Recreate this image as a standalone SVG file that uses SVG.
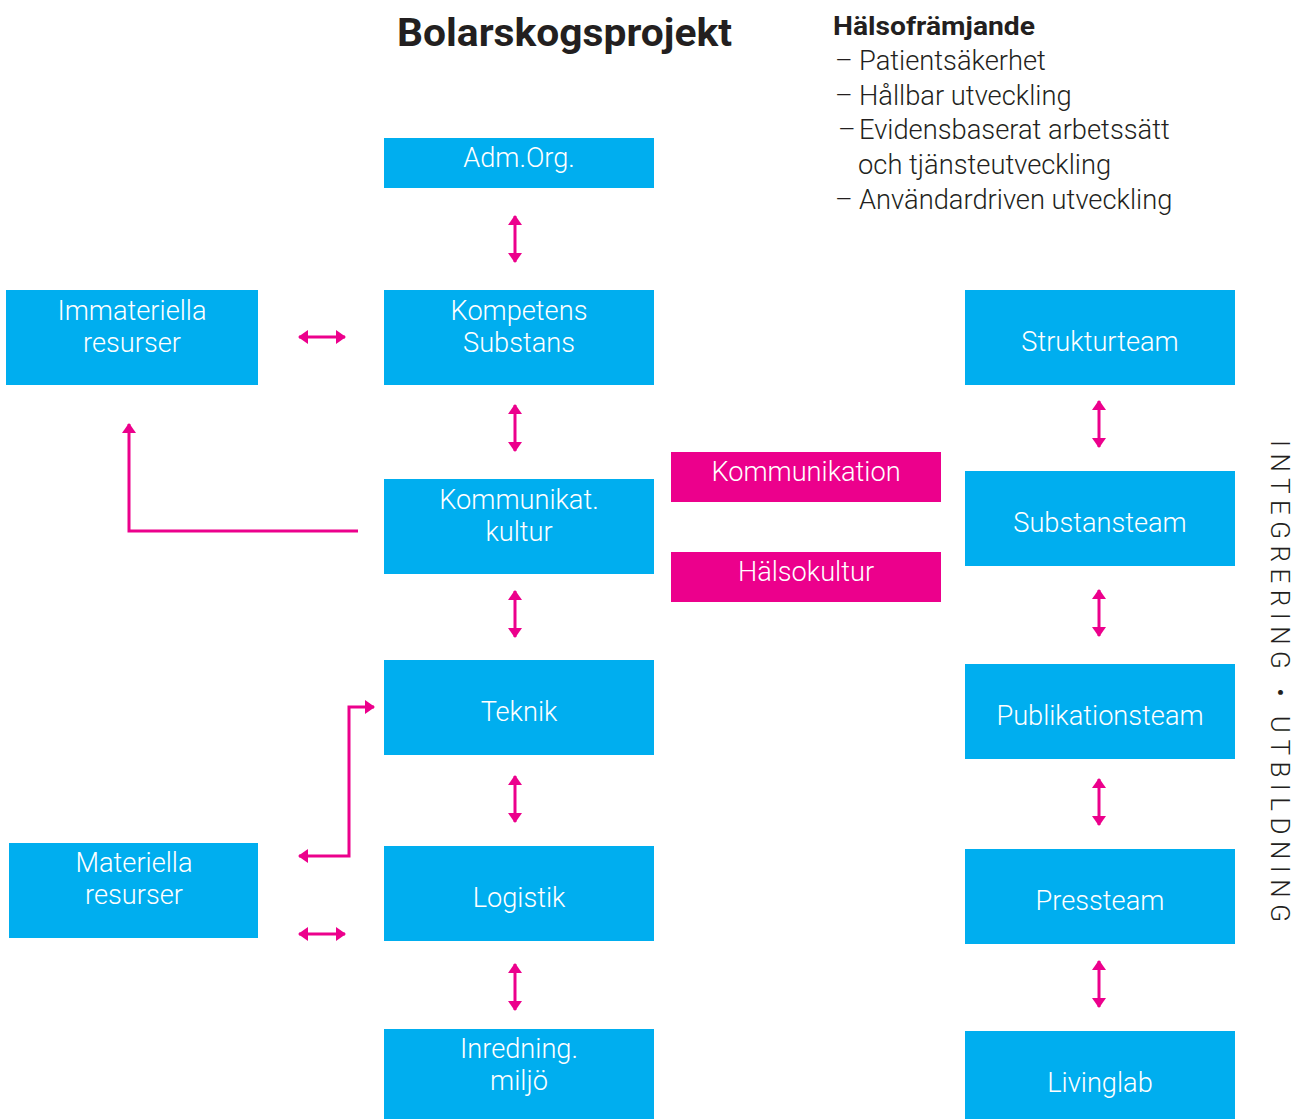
<svg xmlns="http://www.w3.org/2000/svg" width="1296" height="1119" viewBox="0 0 1296 1119">
  <style>
    .box { fill: #00AEEF; }
    .pink { fill: #EC008C; }
    .lbl { font-family: Roboto, "Liberation Sans", sans-serif; font-weight: 300; font-size: 27.2px; fill: #FFFFFF; text-anchor: middle; }
    .title { font-family: Roboto, "Liberation Sans", sans-serif; font-weight: 700; font-size: 39px; fill: #231F20; }
    .head { font-family: Roboto, "Liberation Sans", sans-serif; font-weight: 700; font-size: 26px; fill: #231F20; }
    .list { font-family: Roboto, "Liberation Sans", sans-serif; font-weight: 300; font-size: 27.3px; fill: #231F20; }
    .side { font-family: Roboto, "Liberation Sans", sans-serif; font-weight: 300; font-size: 26px; fill: #231F20; }
    .conn { fill: none; stroke: #EC008C; stroke-width: 3; }
  </style>
  <defs>
    <marker id="ah" viewBox="0 0 10 14" refX="9" refY="7" markerWidth="10" markerHeight="14" markerUnits="userSpaceOnUse" orient="auto-start-reverse">
      <path d="M0,0 L10,7 L0,14 Z" fill="#EC008C"/>
    </marker>
  </defs>

  <rect width="1296" height="1119" fill="#FFFFFF"/>

  <text class="title" x="397" y="46" textLength="335" lengthAdjust="spacingAndGlyphs">Bolarskogsprojekt</text>

  <g id="legend">
    <text class="head" x="833" y="35" textLength="202" lengthAdjust="spacingAndGlyphs">Hälsofrämjande</text>
    <text class="list" y="70"><tspan x="835">–</tspan><tspan x="859">Patientsäkerhet</tspan></text>
    <text class="list" y="105"><tspan x="835">–</tspan><tspan x="859">Hållbar utveckling</tspan></text>
    <text class="list" y="139"><tspan x="838">–</tspan><tspan x="859">Evidensbaserat arbetssätt</tspan></text>
    <text class="list" x="858" y="174">och tjänsteutveckling</text>
    <text class="list" y="209"><tspan x="835">–</tspan><tspan x="859">Användardriven utveckling</tspan></text>
  </g>

  <text class="side" transform="translate(1271,440) rotate(90)" x="0" y="0" textLength="482" lengthAdjust="spacing">INTEGRERING • UTBILDNING</text>

  <g id="adm-org">
    <rect class="box" x="384" y="138" width="270" height="50"/>
    <text class="lbl" x="519" y="167">Adm.Org.</text>
  </g>
  <g id="kompetens">
    <rect class="box" x="384" y="290" width="270" height="95"/>
    <text class="lbl" x="519" y="320">Kompetens</text>
    <text class="lbl" x="519" y="352">Substans</text>
  </g>
  <g id="immateriella">
    <rect class="box" x="6" y="290" width="252" height="95"/>
    <text class="lbl" x="132" y="320">Immateriella</text>
    <text class="lbl" x="132" y="352">resurser</text>
  </g>
  <g id="kommunikat">
    <rect class="box" x="384" y="479" width="270" height="95"/>
    <text class="lbl" x="519" y="509">Kommunikat.</text>
    <text class="lbl" x="519" y="541">kultur</text>
  </g>
  <g id="teknik">
    <rect class="box" x="384" y="660" width="270" height="95"/>
    <text class="lbl" x="519" y="721">Teknik</text>
  </g>
  <g id="logistik">
    <rect class="box" x="384" y="846" width="270" height="95"/>
    <text class="lbl" x="519" y="907">Logistik</text>
  </g>
  <g id="inredning">
    <rect class="box" x="384" y="1029" width="270" height="90"/>
    <text class="lbl" x="519" y="1058">Inredning.</text>
    <text class="lbl" x="519" y="1090">miljö</text>
  </g>
  <g id="materiella">
    <rect class="box" x="9" y="843" width="249" height="95"/>
    <text class="lbl" x="134" y="872">Materiella</text>
    <text class="lbl" x="134" y="904">resurser</text>
  </g>
  <g id="kommunikation">
    <rect class="pink" x="671" y="452" width="270" height="50"/>
    <text class="lbl" x="806" y="481">Kommunikation</text>
  </g>
  <g id="halsokultur">
    <rect class="pink" x="671" y="552" width="270" height="50"/>
    <text class="lbl" x="806" y="581">Hälsokultur</text>
  </g>
  <g id="strukturteam">
    <rect class="box" x="965" y="290" width="270" height="95"/>
    <text class="lbl" x="1100" y="351">Strukturteam</text>
  </g>
  <g id="substansteam">
    <rect class="box" x="965" y="471" width="270" height="95"/>
    <text class="lbl" x="1100" y="532">Substansteam</text>
  </g>
  <g id="publikationsteam">
    <rect class="box" x="965" y="664" width="270" height="95"/>
    <text class="lbl" x="1100" y="725">Publikationsteam</text>
  </g>
  <g id="pressteam">
    <rect class="box" x="965" y="849" width="270" height="95"/>
    <text class="lbl" x="1100" y="910">Pressteam</text>
  </g>
  <g id="livinglab">
    <rect class="box" x="965" y="1031" width="270" height="88"/>
    <text class="lbl" x="1100" y="1092">Livinglab</text>
  </g>

  <g id="connectors">
    <!-- central column -->
    <line class="conn" x1="515" y1="216" x2="515" y2="262" marker-start="url(#ah)" marker-end="url(#ah)"/>
    <line class="conn" x1="515" y1="405" x2="515" y2="451" marker-start="url(#ah)" marker-end="url(#ah)"/>
    <line class="conn" x1="515" y1="591" x2="515" y2="637" marker-start="url(#ah)" marker-end="url(#ah)"/>
    <line class="conn" x1="515" y1="776" x2="515" y2="822" marker-start="url(#ah)" marker-end="url(#ah)"/>
    <line class="conn" x1="515" y1="964" x2="515" y2="1010" marker-start="url(#ah)" marker-end="url(#ah)"/>
    <!-- team column -->
    <line class="conn" x1="1099" y1="401" x2="1099" y2="447" marker-start="url(#ah)" marker-end="url(#ah)"/>
    <line class="conn" x1="1099" y1="590" x2="1099" y2="636" marker-start="url(#ah)" marker-end="url(#ah)"/>
    <line class="conn" x1="1099" y1="779" x2="1099" y2="825" marker-start="url(#ah)" marker-end="url(#ah)"/>
    <line class="conn" x1="1099" y1="961" x2="1099" y2="1007" marker-start="url(#ah)" marker-end="url(#ah)"/>
    <!-- resources -->
    <line class="conn" x1="299" y1="337" x2="345" y2="337" marker-start="url(#ah)" marker-end="url(#ah)"/>
    <line class="conn" x1="299" y1="934" x2="345" y2="934" marker-start="url(#ah)" marker-end="url(#ah)"/>
    <polyline class="conn" points="358,531 129,531 129,424" marker-end="url(#ah)"/>
    <polyline class="conn" points="374,707 349,707 349,856 299,856" marker-start="url(#ah)" marker-end="url(#ah)"/>
  </g>
</svg>
